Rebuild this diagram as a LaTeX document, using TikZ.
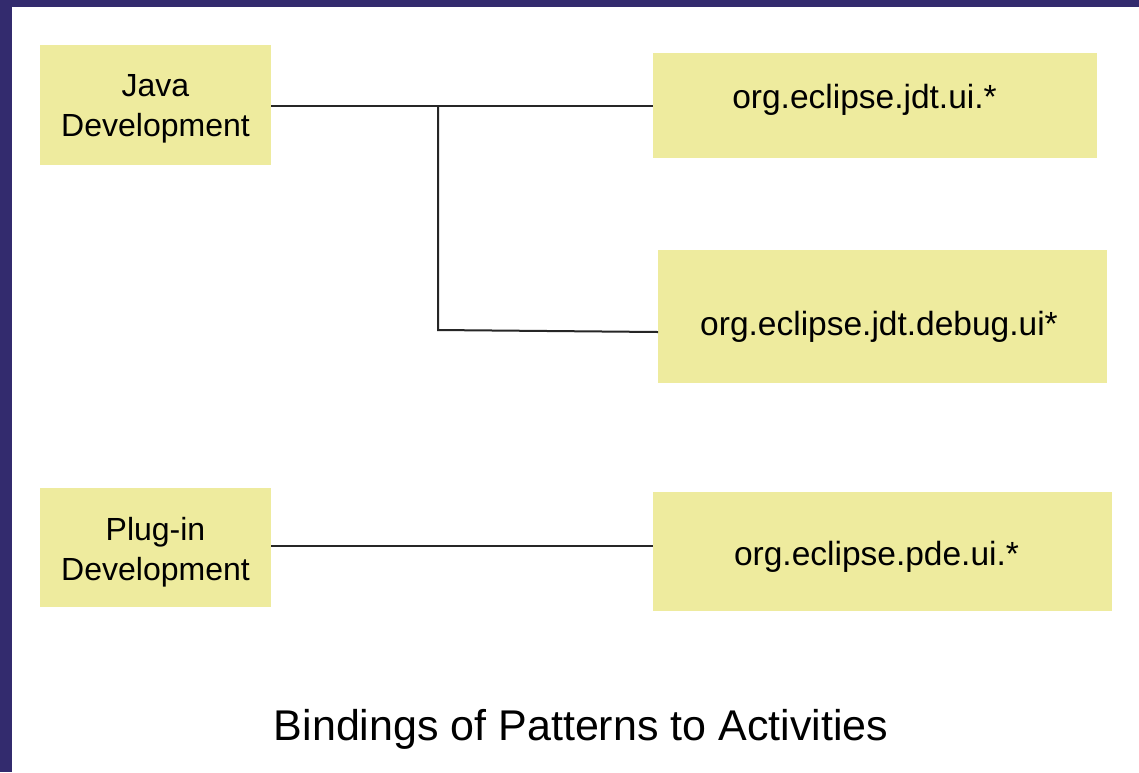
\documentclass[tikz,border=0pt]{standalone}
\usepackage{fontspec}
\setmainfont{Liberation Sans}
\definecolor{frame}{HTML}{332B6E}
\definecolor{boxfill}{HTML}{EEEB9E}
\begin{document}
\begin{tikzpicture}[x=1pt,y=-1pt,
  actbox/.style={fill=boxfill, draw=none, inner sep=0pt},
  actname/.style={inner sep=0pt, align=center, font=\fontsize{32}{40}\selectfont},
  pattern/.style={inner sep=0pt, anchor=base, font=\fontsize{33.5}{40}\selectfont},
  link/.style={line width=2pt, draw=black!85}]
  % page frame: dark band on top and left, white canvas
  \fill[frame] (0,0) rectangle (1139,772);
  \fill[white] (12,7) rectangle (1139,772);
  \useasboundingbox (0,0) rectangle (1139,772);

  % activity boxes
  \node[actbox, minimum width=231pt, minimum height=120pt] (java) at (155.5,105) {};
  \node[actbox, minimum width=231pt, minimum height=119pt] (plugin) at (155.5,547.5) {};
  \node[actname] (javatext) at (155.5,108.5) {Java\\Development};
  \node[actname] (plugintext) at (155.5,552) {Plug-in\\Development};

  % pattern boxes
  \node[actbox, minimum width=444pt, minimum height=105pt] (jdtui) at (875,105.5) {};
  \node[actbox, minimum width=449pt, minimum height=133pt] (debug) at (882.5,316.5) {};
  \node[actbox, minimum width=459pt, minimum height=119pt] (pdeui) at (882.5,551.5) {};
  \node[pattern] (jdtuitext) at (864.5,108) {org.eclipse.jdt.ui.*};
  \node[pattern] (debugtext) at (879,335) {org.eclipse.jdt.debug.ui*};
  \node[pattern] (pdeuitext) at (876.5,565) {org.eclipse.pde.ui.*};

  % bindings
  \coordinate (split) at (438,106);
  \coordinate (bend) at (438,330);
  \coordinate (debugin) at (658,332);
  \draw[link] (java.east |- split) -- (jdtui.west |- split);
  \draw[link] (split) -- (bend) -- (debugin);
  \draw[link] (plugin.east |- 0,546) -- (pdeui.west |- 0,546);

  % caption
  \node[anchor=base, inner sep=0pt, font=\fontsize{43}{50}\selectfont] (caption) at (581,740) {Bindings of Patterns to Activities};
\end{tikzpicture}
\end{document}
